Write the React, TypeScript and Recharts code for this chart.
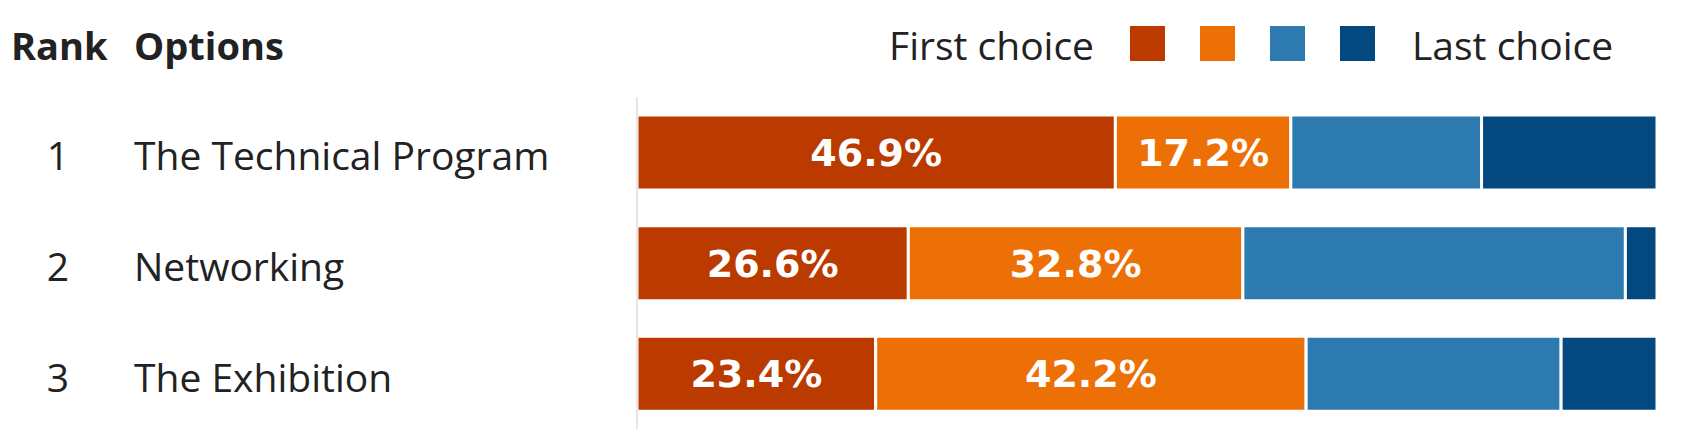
import { BarChart, Bar, XAxis, YAxis, LabelList } from "recharts";

// ranking survey, share of respondents per position (n = 64)
const RANKS = ["1", "2", "3"];
const OPTIONS = ["The Technical Program", "Networking", "The Exhibition"];
const CHOICE_1 = [46.9, 26.6, 23.4];
const CHOICE_2 = [17.2, 32.8, 42.2];
const CHOICE_3 = [18.7, 37.5, 25.0];
const CHOICE_4 = [17.2, 3.1, 9.4];

const SERIES = [
    { key: "c1", values: CHOICE_1, color: "#bb3a00", labeled: true },
    { key: "c2", values: CHOICE_2, color: "#ec7006", labeled: true },
    { key: "c3", values: CHOICE_3, color: "#2c7ab0", labeled: false },
    { key: "c4", values: CHOICE_4, color: "#03487f", labeled: false },
];

const TEXT_FONT = "'Open Sans', sans-serif";
const LABEL_FONT = "'DejaVu Sans', sans-serif";
const TEXT_COLOR = "#222222";

const W = 1680;
const H = 423;

const data = OPTIONS.map((option, i) => {
    const row: Record<string, string | number> = { option, rank: RANKS[i] };
    SERIES.forEach((s) => {
        row[s.key] = s.values[i];
    });
    return row;
});

function OptionTick({ y, payload, index }: any) {
    return (
        <g>
            <text x={50} y={y} dy={18} textAnchor="middle" fontFamily={TEXT_FONT} fontSize={39} fill={TEXT_COLOR}>
                {RANKS[index]}
            </text>
            <text x={126} y={y} dy={18} textAnchor="start" fontFamily={TEXT_FONT} fontSize={39} fill={TEXT_COLOR}>
                {payload.value}
            </text>
        </g>
    );
}

function Header() {
    return (
        <svg width={W} height={89} style={{ position: "absolute", top: 0, left: 0 }}>
            <text x={3} y={52} fontFamily={TEXT_FONT} fontWeight={700} fontSize={38} fill={TEXT_COLOR}>
                Rank
            </text>
            <text x={126} y={52} fontFamily={TEXT_FONT} fontWeight={700} fontSize={38} fill={TEXT_COLOR}>
                Options
            </text>
            <text x={881} y={52} fontFamily={TEXT_FONT} fontSize={39} fill={TEXT_COLOR}>
                First choice
            </text>
            {SERIES.map((s, i) => (
                <rect key={s.key} x={1122 + i * 70} y={18} width={35} height={35} fill={s.color} />
            ))}
            <text x={1404} y={52} fontFamily={TEXT_FONT} fontSize={39} fill={TEXT_COLOR}>
                Last choice
            </text>
        </svg>
    );
}

export default function App() {
    return (
        <div style={{ position: "relative", width: W, height: H }}>
            <BarChart
                width={W}
                height={H}
                data={data}
                layout="vertical"
                margin={{ top: 89, right: 31, bottom: 2, left: 0 }}
            >
                <XAxis type="number" domain={[0, 100]} hide />
                <YAxis
                    type="category"
                    dataKey="option"
                    width={629}
                    tickLine={false}
                    axisLine={{ stroke: "#e6e6e6", strokeWidth: 2 }}
                    tick={<OptionTick />}
                />
                {SERIES.map((s) => (
                    <Bar
                        key={s.key}
                        dataKey={s.key}
                        stackId="rank"
                        fill={s.color}
                        stroke="#ffffff"
                        strokeWidth={3}
                        barSize={75}
                        isAnimationActive={false}
                    >
                        {s.labeled && (
                            <LabelList
                                dataKey={s.key}
                                position="center"
                                formatter={(v: any) => `${Number(v).toFixed(1)}%`}
                                fill="#ffffff"
                                fontFamily={LABEL_FONT}
                                fontWeight={700}
                                fontSize={38}
                            />
                        )}
                    </Bar>
                ))}
            </BarChart>
            <Header />
        </div>
    );
}
